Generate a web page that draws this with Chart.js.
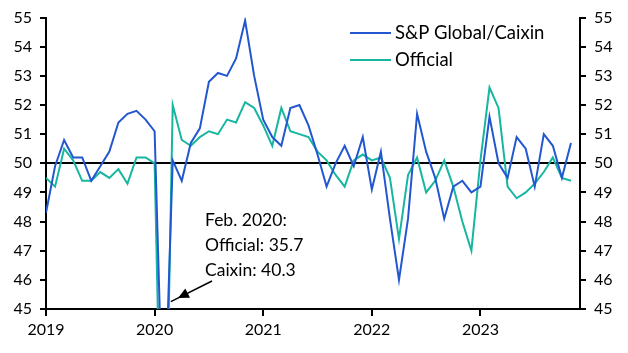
<!DOCTYPE html>
<html>
<head>
<meta charset="utf-8">
<script src="https://cdn.jsdelivr.net/npm/chart.js@4.4.0/dist/chart.umd.min.js"></script>
<style>
  html, body { margin: 0; padding: 0; background: #fff; }
  #wrap { width: 628px; height: 353px; }
</style>
</head>
<body>
<div id="wrap"><canvas id="pmiChart"></canvas></div>
<script>
// Monthly PMI, Jan 2019 - Nov 2023
const years = ['2019', '2020', '2021', '2022', '2023'];
const caixin = [
    48.3, 49.9, 50.8, 50.2, 50.2, 49.4, 49.9, 50.4, 51.4, 51.7, 51.8, 51.5,
    51.1, 40.3, 50.1, 49.4, 50.7, 51.2, 52.8, 53.1, 53.0, 53.6, 54.9, 53.0,
    51.5, 50.9, 50.6, 51.9, 52.0, 51.3, 50.3, 49.2, 50.0, 50.6, 49.9, 50.9,
    49.1, 50.4, 48.1, 46.0, 48.1, 51.7, 50.4, 49.5, 48.1, 49.2, 49.4, 49.0,
    49.2, 51.6, 50.0, 49.5, 50.9, 50.5, 49.2, 51.0, 50.6, 49.5, 50.7
];
const official = [
    49.5, 49.2, 50.5, 50.1, 49.4, 49.4, 49.7, 49.5, 49.8, 49.3, 50.2, 50.2,
    50.0, 35.7, 52.0, 50.8, 50.6, 50.9, 51.1, 51.0, 51.5, 51.4, 52.1, 51.9,
    51.3, 50.6, 51.9, 51.1, 51.0, 50.9, 50.4, 50.1, 49.6, 49.2, 50.1, 50.3,
    50.1, 50.2, 49.5, 47.4, 49.6, 50.2, 49.0, 49.4, 50.1, 49.2, 48.0, 47.0,
    50.1, 52.6, 51.9, 49.2, 48.8, 49.0, 49.3, 49.7, 50.2, 49.5, 49.4
];
const noteLines = ['Feb. 2020:', 'Official: 35.7', 'Caixin: 40.3'];

const blue = '#2357d0';
const teal = '#17b6a0';
const font = { family: 'Lato, "Noto Sans", sans-serif', size: 16 };

const toPoints = arr => arr.map((v, i) => ({ x: i, y: v }));

// legend + annotation drawn by hand
const extras = {
    id: 'extras',
    afterDraw(chart) {
        const c = chart.ctx;
        c.save();
        c.textBaseline = 'middle';
        c.font = '18.5px Lato, "Noto Sans", sans-serif';
        chart.data.datasets.forEach((ds, i) => {
            const y = 33 + i * 27;
            c.strokeStyle = ds.borderColor;
            c.lineWidth = 2;
            c.beginPath();
            c.moveTo(350, y);
            c.lineTo(391, y);
            c.stroke();
            c.fillStyle = '#000';
            c.fillText(ds.label, 395, y);
        });
        c.font = '17.5px Lato, "Noto Sans", sans-serif';
        noteLines.forEach((t, i) => {
            c.fillText(t, 205, 220 + i * 25);
        });
        // arrow pointing at the Feb 2020 drop
        const x1 = 212, y1 = 281, x2 = 178, y2 = 298;
        const ang = Math.atan2(y2 - y1, x2 - x1);
        c.strokeStyle = '#000';
        c.lineWidth = 1.5;
        c.beginPath();
        c.moveTo(x1, y1);
        c.lineTo(x2 + 8 * Math.cos(ang), y2 + 8 * Math.sin(ang));
        c.stroke();
        c.fillStyle = '#000';
        c.beginPath();
        c.moveTo(x2, y2);
        c.lineTo(x2 - 12 * Math.cos(ang - 0.45), y2 - 12 * Math.sin(ang - 0.45));
        c.lineTo(x2 - 12 * Math.cos(ang + 0.45), y2 - 12 * Math.sin(ang + 0.45));
        c.closePath();
        c.fill();
        c.restore();
    }
};

const yAxis = (pos, w) => ({
    position: pos,
    min: 45,
    max: 55,
    ticks: { stepSize: 1, color: '#000', font: font, padding: 8 },
    border: { color: '#000', width: 2 },
    grid: {
        drawOnChartArea: pos === 'left',
        color: ctx => (ctx.tick && ctx.tick.value === 50) ? '#000' : 'rgba(0,0,0,0)',
        lineWidth: 2,
        tickColor: '#000',
        tickLength: 6
    },
    afterFit(scale) { scale.width = w; }
});

new Chart(document.getElementById('pmiChart'), {
    type: 'line',
    data: {
        datasets: [
            { label: 'S&P Global/Caixin', data: toPoints(caixin), borderColor: blue, borderWidth: 2, pointRadius: 0, tension: 0 },
            { label: 'Official', data: toPoints(official), borderColor: teal, borderWidth: 2, pointRadius: 0, tension: 0 }
        ]
    },
    options: {
        responsive: true,
        maintainAspectRatio: false,
        animation: false,
        layout: { padding: { top: 15 } },
        plugins: { legend: { display: false }, tooltip: { enabled: false } },
        scales: {
            x: {
                type: 'linear',
                min: 0,
                max: 59,
                afterBuildTicks(scale) { scale.ticks = years.map((y, i) => ({ value: i * 12 })); },
                ticks: { color: '#000', font: font, padding: 4, callback: (v) => years[Math.round(v / 12)] },
                border: { color: '#000', width: 2 },
                grid: { drawOnChartArea: false, tickColor: '#000', tickLength: 7, lineWidth: 2 },
                afterFit(scale) { scale.height = 44; }
            },
            y: yAxis('left', 46),
            y2: yAxis('right', 48)
        }
    },
    plugins: [extras]
});
</script>
</body>
</html>
